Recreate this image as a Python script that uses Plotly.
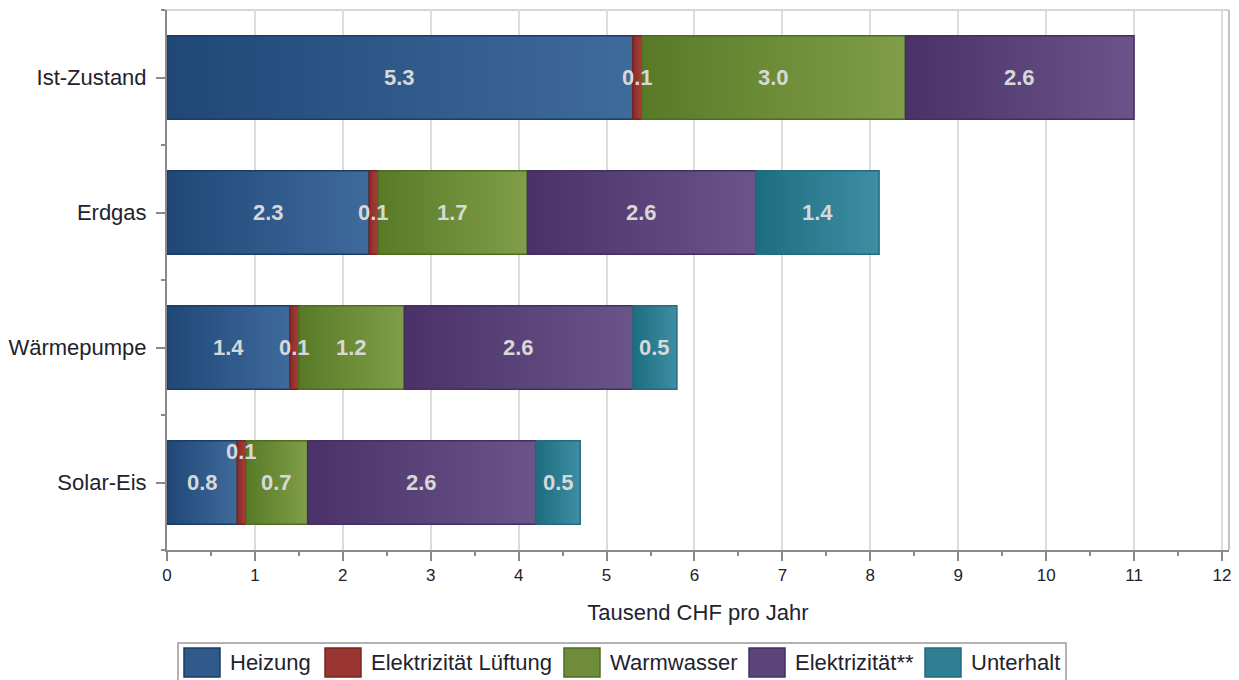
import plotly.graph_objects as go

# Jährliche Kosten je Variante (Tausend CHF)
categories = ["Ist-Zustand", "Erdgas", "Wärmepumpe", "Solar-Eis"]
series_names = ["Heizung", "Elektrizität Lüftung", "Warmwasser", "Elektrizität**", "Unterhalt"]
heizung = [5.3, 2.3, 1.4, 0.8]
elektrizitaet_lueftung = [0.1, 0.1, 0.1, 0.1]
warmwasser = [3.0, 1.7, 1.2, 0.7]
elektrizitaet = [2.6, 2.6, 2.6, 2.6]
unterhalt = [None, 1.4, 0.5, 0.5]
x_tick_values = list(range(0, 13))

series_values = [heizung, elektrizitaet_lueftung, warmwasser, elektrizitaet, unterhalt]

# (dunkel links, hell rechts, Rand)
colors = [
    ("#1f4877", "#3f6a9c", "#1c3d66"),
    ("#8a2a27", "#a6413b", "#7a2421"),
    ("#587a26", "#809e4a", "#4f6d22"),
    ("#4a3268", "#6a548a", "#44305f"),
    ("#1d6d80", "#3e8fa4", "#246b7c"),
]
swatch_colors = ["#2f5a8b", "#9a3632", "#6e8c39", "#5b4479", "#2e7f93"]

FONT = "Liberation Sans, Arial, sans-serif"
TEXT_COLOR = "#22222e"
HALF = 0.31  # halbe Balkendicke in Kategorieneinheiten

fig = go.Figure()
annotations = []

starts = [0.0] * len(categories)
for s_idx, (name, vals) in enumerate(zip(series_names, series_values)):
    dark, light, border = colors[s_idx]
    for c_idx, v in enumerate(vals):
        if v is None:
            continue
        x0 = starts[c_idx]
        x1 = x0 + v
        y = c_idx
        fig.add_trace(go.Scatter(
            x=[x0, x1, x1, x0, x0],
            y=[y - HALF, y - HALF, y + HALF, y + HALF, y - HALF],
            mode="lines",
            fill="toself",
            fillgradient=dict(type="horizontal", colorscale=[[0, dark], [1, light]]),
            line=dict(color=border, width=1.5),
            name=name,
            showlegend=False,
            hoverinfo="skip",
        ))
        yshift = 31 if (categories[c_idx] == "Solar-Eis" and name == "Elektrizität Lüftung") else 0
        annotations.append(dict(
            x=x0 + v / 2, y=y, xref="x", yref="y",
            text=f"{v:.1f}", showarrow=False, yshift=yshift,
            font=dict(family=FONT, size=22, color="#d8d8d8", weight="bold"),
        ))
        starts[c_idx] = x1

# Plotbereich in Pixeln: x 167..1229, y 10..550
PL, PR, PT, PB = 167, 1229, 10, 550


def px_x(p):
    return (p - PL) / (PR - PL)


def px_y(p):
    return (PB - p) / (PB - PT)


shapes = [
    # obere Begrenzung
    dict(type="line", xref="paper", yref="paper", x0=px_x(163), x1=1, y0=1, y1=1,
         line=dict(color="#d6d6d6", width=2), layer="below"),
    # rechte Begrenzung
    dict(type="line", xref="paper", yref="paper", x0=1, x1=1, y0=0, y1=1,
         line=dict(color="#c2c2c2", width=2), layer="below"),
    # Legendenrahmen
    dict(type="rect", xref="paper", yref="paper",
         x0=px_x(178), x1=px_x(1066), y0=px_y(700), y1=px_y(643),
         line=dict(color="#9a9a9a", width=1.5), fillcolor="rgba(0,0,0,0)"),
]

legend_swatch_x = [184, 325, 564, 749, 925]
for i, name in enumerate(series_names):
    sx = legend_swatch_x[i]
    shapes.append(dict(
        type="rect", xref="paper", yref="paper",
        x0=px_x(sx), x1=px_x(sx + 36), y0=px_y(677), y1=px_y(648),
        fillcolor=swatch_colors[i], line=dict(color=colors[i][2], width=1.5),
    ))
    annotations.append(dict(
        x=px_x(sx + 44), y=px_y(662.5), xref="paper", yref="paper",
        xanchor="left", yanchor="middle", showarrow=False, text=name,
        font=dict(family=FONT, size=22, color=TEXT_COLOR),
    ))

fig.update_layout(
    width=1239, height=680,
    margin=dict(l=PL, r=1239 - PR, t=PT, b=680 - PB, autoexpand=False),
    paper_bgcolor="white", plot_bgcolor="white",
    showlegend=False,
    font=dict(family=FONT, color=TEXT_COLOR),
    shapes=shapes,
    annotations=annotations,
)

fig.update_xaxes(
    range=[0, 12.08],
    tickvals=x_tick_values,
    ticks="outside", ticklen=9, tickwidth=1.5, tickcolor="#8a8a8a",
    minor=dict(dtick=0.5, tick0=0, ticks="outside", ticklen=4, tickwidth=1.5,
               tickcolor="#8a8a8a", showgrid=False),
    showgrid=True, gridcolor="#dcdcdc", gridwidth=2,
    showline=True, linecolor="#8a8a8a", linewidth=2,
    zeroline=False, automargin=False,
    tickfont=dict(family=FONT, size=17, color=TEXT_COLOR),
    title=dict(text="Tausend CHF pro Jahr", font=dict(family=FONT, size=22, color=TEXT_COLOR),
               standoff=20),
)

fig.update_yaxes(
    range=[3.5, -0.5],
    tickvals=list(range(len(categories))),
    ticktext=categories,
    ticks="outside", ticklen=9, tickwidth=1.5, tickcolor="#8a8a8a",
    minor=dict(tickvals=[-0.5, 0.5, 1.5, 2.5, 3.5], ticks="outside", ticklen=4,
               tickwidth=1.5, tickcolor="#8a8a8a", showgrid=False),
    showgrid=False, zeroline=False, automargin=False,
    showline=True, linecolor="#8a8a8a", linewidth=2,
    tickfont=dict(family=FONT, size=22, color=TEXT_COLOR),
    ticklabelstandoff=5,
)

fig.write_html("out.html")
